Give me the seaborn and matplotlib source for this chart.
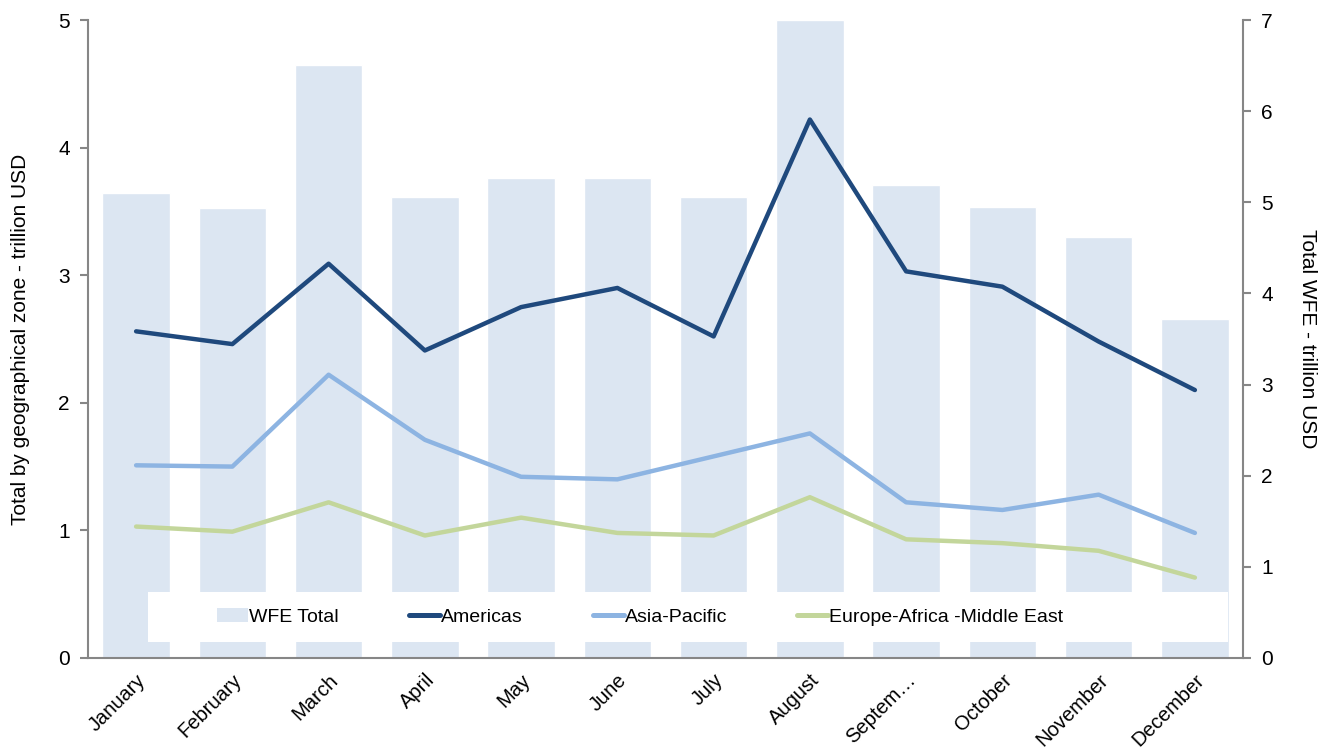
import numpy as np
import pandas as pd
import matplotlib
matplotlib.use("Agg")
import matplotlib.pyplot as plt
import seaborn as sns
from matplotlib.patches import Patch, Rectangle
from matplotlib.lines import Line2D

months = ["January", "February", "March", "April", "May", "June", "July",
          "August", "Septem…", "October", "November", "December"]
wfe_total = [5.10, 4.94, 6.51, 5.06, 5.27, 5.27, 5.06, 7.00, 5.19, 4.95, 4.62, 3.72]
americas = [2.56, 2.46, 3.09, 2.41, 2.75, 2.90, 2.52, 4.22, 3.03, 2.91, 2.48, 2.10]
asia_pacific = [1.51, 1.50, 2.22, 1.71, 1.42, 1.40, 1.58, 1.76, 1.22, 1.16, 1.28, 0.98]
eame = [1.03, 0.99, 1.22, 0.96, 1.10, 0.98, 0.96, 1.26, 0.93, 0.90, 0.84, 0.63]

c_bar = "#DCE6F2"
c_am = "#1F497D"
c_ap = "#8DB4E2"
c_eu = "#C3D69B"
grey = "#868686"
fs = 15

sns.set_style("white")
plt.rcParams["font.family"] = ["Liberation Sans", "DejaVu Sans"]
plt.rcParams["text.color"] = "black"
plt.rcParams["axes.labelcolor"] = "black"
plt.rcParams["xtick.color"] = "black"
plt.rcParams["ytick.color"] = "black"

df = pd.DataFrame({"month": months, "wfe": wfe_total, "Americas": americas,
                   "Asia-Pacific": asia_pacific, "EAME": eame})
df["pos"] = np.arange(len(months))

fig = plt.figure(figsize=(13.31, 7.55), dpi=100)
ax = fig.add_axes([0.0661, 0.1285, 0.8678, 0.845])
sns.barplot(data=df, x="month", y="wfe", color=c_bar, saturation=1, width=0.7, ax=ax)
ax.set_ylim(0, 7)
ax.set_xlim(-0.5, 11.5)
ax.set_xlabel("")

ax2 = ax.twinx()
for col, c in [("Americas", c_am), ("Asia-Pacific", c_ap), ("EAME", c_eu)]:
    sns.lineplot(data=df, x="pos", y=col, color=c, linewidth=3.2, ax=ax2)
ax2.set_ylim(0, 5)
ax2.set_xlabel("")

# swap sides: bars (WFE total) on the right, zones on the left
ax.yaxis.tick_right()
ax.yaxis.set_label_position("right")
ax2.yaxis.tick_left()
ax2.yaxis.set_label_position("left")
ax.set_yticks(range(0, 8))
ax2.set_yticks(range(0, 6))
ax.set_ylabel("Total WFE - trillion USD", rotation=-90, labelpad=32, fontsize=fs)
ax2.set_ylabel("Total by geographical zone - trillion USD", fontsize=fs, labelpad=20)

# x ticks at category boundaries
ax.set_xticks(np.arange(len(months)))
ax.set_xticklabels(months, rotation=45, ha="right", rotation_mode="anchor", fontsize=14.5)
ax.tick_params(axis="x", which="major", length=0, pad=9)
ax.set_xticks(np.arange(-0.5, 12, 1), minor=True)
ax.tick_params(axis="x", which="minor", length=6, width=1.5, color=grey, direction="out")

for a in (ax, ax2):
    for s in a.spines.values():
        s.set_visible(False)
    a.tick_params(axis="y", length=6, width=1.5, color=grey, labelcolor="black",
                  labelsize=fs, direction="out", pad=7)
ax.spines["bottom"].set_visible(True)
ax.spines["right"].set_visible(True)
ax2.spines["left"].set_visible(True)
for s in (ax.spines["bottom"], ax.spines["right"], ax2.spines["left"]):
    s.set_color(grey)
    s.set_linewidth(1.5)

# white legend panel
ax2.add_patch(Rectangle((0.052, 0.025), 0.935, 0.078, transform=ax2.transAxes,
                        facecolor="white", edgecolor="none", zorder=9))
handles = [Patch(facecolor=c_bar, edgecolor="none"),
           Line2D([], [], color=c_am, linewidth=3.6),
           Line2D([], [], color=c_ap, linewidth=3.6),
           Line2D([], [], color=c_eu, linewidth=3.6)]
labels = ["WFE Total", "Americas", "Asia-Pacific", "Europe-Africa -Middle East"]
leg = ax2.legend(handles, labels, ncol=4, loc="center",
                 bbox_to_anchor=(0.478, 0.064), frameon=False, fontsize=14,
                 handlelength=1.6, handletextpad=0.05, columnspacing=3.6)
leg.set_zorder(10)

fig.savefig("out.png", dpi=100)
